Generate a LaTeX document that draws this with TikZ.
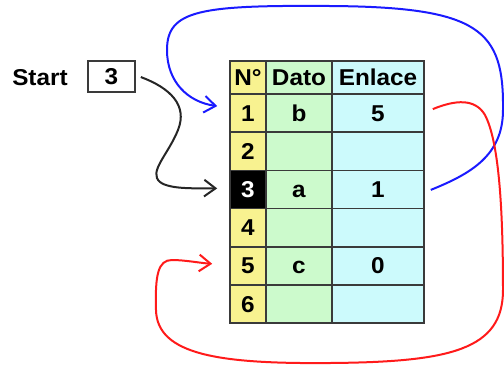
\documentclass[tikz,border=0pt]{standalone}
\usepackage{fontspec}
\setmainfont{Liberation Sans}[FakeStretch=1.06]
\usetikzlibrary{arrows.meta,calc}
\definecolor{ncol}{HTML}{F8F290}
\definecolor{dcol}{HTML}{CCFACC}
\definecolor{ecol}{HTML}{CCFAFC}
\definecolor{grid}{HTML}{3A3A3A}
\definecolor{bl}{HTML}{1A1AFF}
\definecolor{rd}{HTML}{FF1A1A}
\begin{document}
\begin{tikzpicture}[x=0.75pt,y=-0.75pt,
  font=\fontsize{17.2}{19}\selectfont\bfseries,
  cell/.style={draw=grid,line width=1.2pt,inner sep=0pt,minimum height=28.6pt,
    text height=12.2pt,text depth=0pt,anchor=center},
  hcell/.style={cell,minimum height=24.75pt},
  ncell/.style={fill=ncol,minimum width=27pt},
  dcell/.style={fill=dcol,minimum width=49.5pt},
  ecell/.style={fill=ecol,minimum width=69pt},
  conn/.style={line width=1.5pt,
    -{Straight Barb[length=8.5pt,width=12.5pt,line width=1.5pt]}},
]
\useasboundingbox (0,0) rectangle (504,365);
% header
\node[hcell,ncell] (hn) at (248,77.5) {N°};
\node[hcell,dcell] (hd) at (299,77.5) {Dato};
\node[hcell,ecell] (he) at (378,77.5) {Enlace};
% rows
\node[cell,ncell] (n1) at (248,113.1) {1};
\node[cell,dcell] (d1) at (299,113.1) {b};
\node[cell,ecell] (e1) at (378,113.1) {5};
\node[cell,ncell] (n2) at (248,151.3) {2};
\node[cell,dcell] (d2) at (299,151.3) {};
\node[cell,ecell] (e2) at (378,151.3) {};
\node[cell,ncell,fill=black,text=white] (n3) at (248,189.4) {3};
\node[cell,dcell] (d3) at (299,189.4) {a};
\node[cell,ecell] (e3) at (378,189.4) {1};
\node[cell,ncell] (n4) at (248,227.6) {4};
\node[cell,dcell] (d4) at (299,227.6) {};
\node[cell,ecell] (e4) at (378,227.6) {};
\node[cell,ncell] (n5) at (248,265.8) {5};
\node[cell,dcell] (d5) at (299,265.8) {c};
\node[cell,ecell] (e5) at (378,265.8) {0};
\node[cell,ncell] (n6) at (248,303.9) {6};
\node[cell,dcell] (d6) at (299,303.9) {};
\node[cell,ecell] (e6) at (378,303.9) {};
% start
\node[anchor=west,inner sep=0pt,text height=12.2pt,text depth=0pt] (start) at (12,77) {Start};
\node[draw=grid,line width=1.2pt,inner sep=0pt,minimum width=35.25pt,minimum height=23.25pt,
  text height=12.2pt,text depth=0pt] (box) at (111.5,76.5) {3};
% black connector
\draw[conn,black!85] ($(box.east)+(5,0.5)$)
  .. controls (170,88) and (188,105) .. (178,130)
  .. controls (168,155) and (148,172) .. (160,182)
  .. controls (170,190) and (200,188) .. ($(n3.west)+(-12,-1)$);
% blue connector
\draw[conn,bl] ($(e3.east)+(6,0.5)$)
  .. controls (470,174) and (503,156) .. (503,110)
  .. controls (504,30) and (480,7) .. (330,6)
  .. controls (200,5) and (167,10) .. (167,50)
  .. controls (167,82) and (188,102) .. ($(n1.west)+(-12,-7)$);
% red connector
\draw[conn,rd] ($(e1.east)+(8,-4)$)
  .. controls (455,100) and (475,98) .. (485,115)
  .. controls (498,140) and (503,200) .. (503,290)
  .. controls (503,350) and (450,362) .. (330,363)
  .. controls (220,364) and (157,355) .. (156,310)
  .. controls (155,275) and (158,260) .. (172,260)
  .. controls (185,260) and (200,263) .. ($(n5.west)+(-17,-2)$);
\end{tikzpicture}
\end{document}
